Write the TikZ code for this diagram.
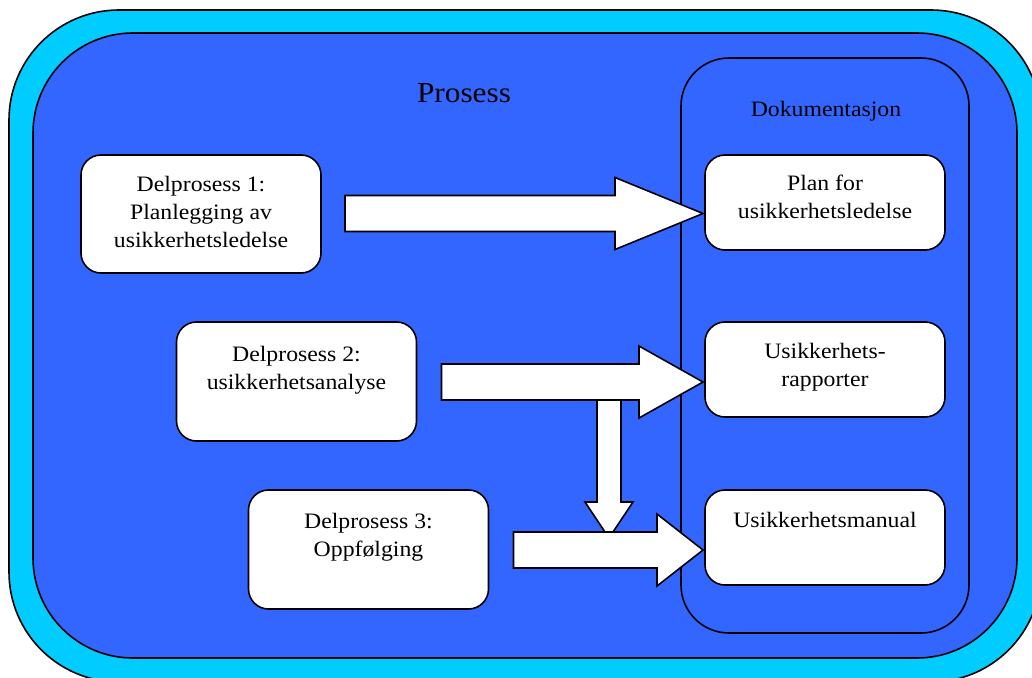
\documentclass[tikz,border=0pt]{standalone}
\usepackage{fontspec}
\setmainfont{Liberation Serif}[FakeStretch=1.08]
\usetikzlibrary{calc}
\definecolor{frame}{HTML}{00CCFF}
\definecolor{field}{HTML}{3366FF}

% horizontal block arrow: tail, tip, head length
\newcommand\hblock[3]{%
  \draw[blockarrow] let \p1=(#1), \p2=(#2) in
    (\x1,\y2+18pt) -- (\x2-#3pt,\y2+18pt) -- (\x2-#3pt,\y2+36pt) -- (\x2,\y2)
    -- (\x2-#3pt,\y2-36pt) -- (\x2-#3pt,\y2-18pt) -- (\x1,\y2-18pt) -- cycle;}
% downward block arrow: tail, tip, head length
\newcommand\vblock[3]{%
  \draw[blockarrow] let \p1=(#1), \p2=(#2) in
    (\x2-12pt,\y1) -- (\x2-12pt,\y2+#3pt) -- (\x2-24pt,\y2+#3pt) -- (\x2,\y2)
    -- (\x2+24pt,\y2+#3pt) -- (\x2+12pt,\y2+#3pt) -- (\x2+12pt,\y1) -- cycle;}

\begin{document}
\begin{tikzpicture}[x=1pt,y=-1pt,
  edge/.style={draw=black,line width=1.6pt},
  panel/.style={edge,rounded corners=#1pt,inner sep=0pt,outer sep=0pt},
  whitebox/.style={panel=20,fill=white,minimum width=240pt},
  boxtext/.style={align=center,inner sep=0pt,anchor=north,
    font=\fontsize{22}{28}\selectfont},
  blockarrow/.style={edge,fill=white,line join=miter}]
\useasboundingbox (0,0) rectangle (1032,677);
\clip (0,0) rectangle (1032,677);

% frames
\node[panel=110,fill=frame,minimum width=1032pt,minimum height=672pt] (outer) at (525,346) {};
\node[panel=100,fill=field,minimum width=984pt,minimum height=625pt] (inner) at (525,345.5) {};
\node[panel=48,minimum width=288pt,minimum height=575pt] (doc) at (825,345.5) {};

\node[anchor=base,font=\fontsize{29}{34}\selectfont] (title) at (464,102) {Prosess};
\node[anchor=base,font=\fontsize{22}{26}\selectfont] (doctitle) at (826,116) {Dokumentasjon};

% sub-processes
\node[whitebox,minimum height=118pt] (b1) at (201,214) {};
\node[whitebox,minimum height=119pt] (b2) at (296.5,381.5) {};
\node[whitebox,minimum height=119pt] (b3) at (368.5,549.5) {};
\node[boxtext] (t1) at ($(b1.north)+(0,21)$) {Delprosess 1:\\Planlegging av\\usikkerhetsledelse};
\node[boxtext] (t2) at ($(b2.north)+(0,24)$) {Delprosess 2:\\usikkerhetsanalyse};
\node[boxtext] (t3) at ($(b3.north)+(0,23)$) {Delprosess 3:\\Oppfølging};

% documents
\node[whitebox,minimum height=95pt] (plan) at (825,202.5) {};
\node[whitebox,minimum height=95pt] (rap) at (825,369.5) {};
\node[whitebox,minimum height=95pt] (man) at (825,537.5) {};
\node[boxtext] (tp) at ($(plan.north)+(0,20)$) {Plan for\\usikkerhetsledelse};
\node[boxtext] (tr) at ($(rap.north)+(0,21)$) {Usikkerhets-\\rapporter};
\node[boxtext] (tm) at ($(man.north)+(0,22)$) {Usikkerhetsmanual};

% arrow anchors
\coordinate (a1tail) at ($(b1.east)+(24,0)$);
\coordinate (a1tip) at ($(plan.west)+(-2,11)$);
\coordinate (a2tail) at ($(b2.east)+(25,0)$);
\coordinate (a2tip) at ($(rap.west)+(-2,12.5)$);
\coordinate (a3tail) at ($(b3.east)+(25,0)$);
\coordinate (a3tip) at ($(man.west)+(-2,12.5)$);
\coordinate (split) at ($(a2tip)+(-94,13)$);
\coordinate (a4tip) at ($(a3tip)+(-94,-12)$);

% arrows
\vblock{split}{a4tip}{36}
\hblock{a1tail}{a1tip}{88}
\hblock{a2tail}{a2tip}{64}
\hblock{a3tail}{a3tip}{46}
\end{tikzpicture}
\end{document}
